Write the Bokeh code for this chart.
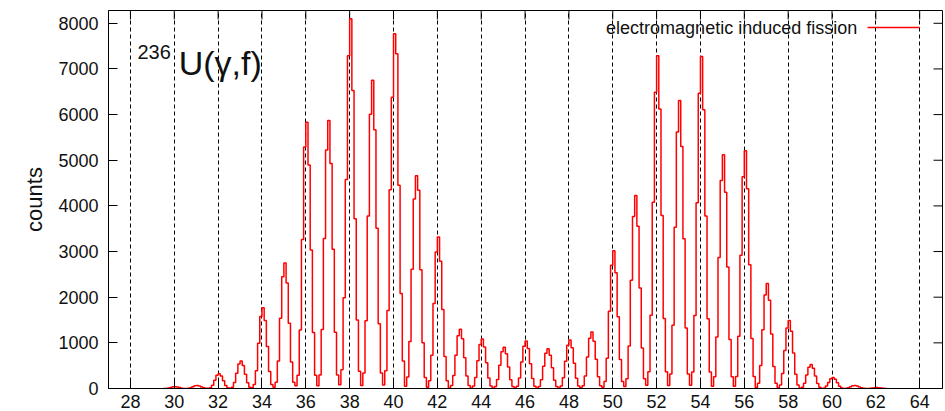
from bokeh.plotting import figure
from bokeh.models import FixedTicker, Label, Range1d
from bokeh.embed import file_html
from bokeh.resources import INLINE

# ---------------- data ----------------
atomic_numbers = list(range(30, 63))
bin_width = 0.1
# counts in 0.1-wide bins, ten bins per Z, covering Z-0.5 .. Z+0.5
counts_by_z = [
    [0, 2, 9, 22, 36, 40, 34, 21, 8, 2],                          # 30
    [1, 3, 14, 36, 58, 65, 55, 34, 14, 3],                        # 31
    [3, 16, 72, 182, 289, 325, 273, 169, 68, 16],                 # 32
    [6, 30, 132, 336, 534, 600, 504, 312, 126, 30],               # 33
    [18, 89, 389, 991, 1575, 1770, 1487, 920, 372, 89],           # 34
    [28, 138, 605, 1540, 2448, 2750, 2310, 1430, 578, 138],       # 35
    [58, 292, 1283, 3265, 5290, 5830, 4897, 3032, 1224, 292],     # 36
    [59, 294, 1291, 3287, 5224, 5870, 4931, 3052, 1233, 294],     # 37
    [80, 410, 1990, 4580, 7290, 8100, 6530, 3720, 1500, 380],     # 38
    [68, 338, 1485, 3780, 6010, 6750, 5670, 3510, 1418, 338],     # 39
    [78, 389, 1709, 4351, 6380, 7770, 7330, 4450, 2080, 600],     # 40
    [50, 250, 1030, 2610, 4150, 4660, 4340, 2600, 1000, 240],     # 41
    [30, 170, 730, 1860, 2990, 3320, 2790, 1730, 700, 170],       # 42
    [13, 65, 286, 728, 1157, 1300, 1092, 676, 273, 65],           # 43
    [11, 54, 239, 608, 966, 1085, 911, 564, 228, 54],             # 44
    [9, 45, 199, 507, 805, 905, 760, 471, 190, 45],               # 45
    [10, 52, 229, 582, 926, 1040, 874, 541, 218, 52],             # 46
    [9, 44, 191, 487, 774, 870, 731, 452, 183, 44],               # 47
    [11, 53, 234, 596, 948, 1065, 895, 554, 224, 53],             # 48
    [12, 62, 272, 692, 1099, 1235, 1037, 642, 259, 62],           # 49
    [30, 151, 664, 1691, 2700, 3020, 2537, 1570, 634, 151],       # 50
    [42, 212, 931, 2369, 3765, 4230, 3553, 2200, 888, 212],       # 51
    [73, 365, 1604, 4082, 6490, 7290, 6124, 3791, 1531, 365],     # 52
    [63, 316, 1388, 3534, 5616, 6310, 5300, 3281, 1325, 316],     # 53
    [73, 364, 1599, 4071, 6470, 7270, 6107, 3780, 1527, 364],     # 54
    [51, 256, 1126, 2867, 4557, 5120, 4301, 2662, 1075, 256],     # 55
    [52, 261, 1146, 2918, 4637, 5210, 4376, 2709, 1094, 261],     # 56
    [23, 115, 506, 1288, 2047, 2300, 1932, 1196, 483, 115],       # 57
    [15, 75, 328, 834, 1326, 1490, 1252, 775, 313, 75],           # 58
    [5, 26, 116, 294, 467, 525, 441, 273, 110, 26],               # 59
    [2, 12, 53, 134, 214, 240, 202, 125, 50, 12],                 # 60
    [1, 3, 14, 36, 58, 65, 55, 34, 14, 3],                        # 61
    [0, 1, 4, 11, 18, 20, 17, 10, 4, 1],                          # 62
]
x_ticks = list(range(28, 65, 2))
y_ticks = list(range(0, 8001, 1000))
series_label = "electromagnetic induced fission"
title_sup = "236"
title_main = "U(γ,f)"
y_label = "counts"

# ---------------- build step histogram ----------------
edges, counts = [], []
for z, row in zip(atomic_numbers, counts_by_z):
    for k, c in enumerate(row):
        edges.append(round(z - 0.5 + k * bin_width, 2))
        counts.append(c)
edges.append(round(edges[-1] + bin_width, 2))
counts.append(counts[-1])

FONT = "Liberation Sans"
X0, X1 = 27.0, 65.04
Y0, Y1 = 0, 8280

p = figure(width=945, height=411,
           x_range=Range1d(X0, X1), y_range=Range1d(Y0, Y1),
           output_backend="svg", toolbar_location=None,
           min_border_left=108, min_border_right=3,
           min_border_top=10, min_border_bottom=23)
p.background_fill_color = "white"
p.border_fill_color = "white"
p.outline_line_color = "black"
p.outline_line_width = 1

def style_axis(ax, ticks):
    ax.ticker = FixedTicker(ticks=ticks)
    ax.axis_line_color = "black"
    ax.major_tick_line_color = "black"
    ax.major_tick_in = 9
    ax.major_tick_out = 0
    ax.minor_tick_line_color = None
    ax.major_label_text_font = FONT
    ax.major_label_text_font_size = "18px"
    ax.major_label_text_color = "#111111"

style_axis(p.xaxis[0], x_ticks)
p.xaxis[0].major_label_standoff = 6
style_axis(p.yaxis[0], y_ticks)
p.yaxis[0].major_label_standoff = 10
p.yaxis[0].axis_label = y_label
p.yaxis[0].axis_label_text_font = FONT
p.yaxis[0].axis_label_text_font_size = "22px"
p.yaxis[0].axis_label_text_font_style = "normal"
p.yaxis[0].axis_label_text_color = "#111111"
p.yaxis[0].axis_label_standoff = 8

p.xgrid.ticker = FixedTicker(ticks=x_ticks)
p.xgrid.grid_line_color = "black"
p.xgrid.grid_line_dash = "4 3"
p.xgrid.grid_line_width = 1
p.ygrid.grid_line_color = None

# mirrored tick marks on the top and right frame edges (9 px inward)
tick_len_y = 9 / (368 / (Y1 - Y0) * 1.0) if False else 9 * (Y1 - Y0) / 378.0
tick_len_x = 9 * (X1 - X0) / 834.0
p.segment(x0=x_ticks, x1=x_ticks, y0=[Y1] * len(x_ticks),
          y1=[Y1 - tick_len_y] * len(x_ticks), line_color="black", line_width=1)
p.segment(x0=[X1] * len(y_ticks), x1=[X1 - tick_len_x] * len(y_ticks),
          y0=y_ticks, y1=y_ticks, line_color="black", line_width=1)

p.step(x=edges, y=counts, mode="after", line_color="#ff0000", line_width=1.5)

# title annotation
p.add_layout(Label(x=28.32, y=7380, text=title_sup, text_font=FONT,
                   text_font_size="20px", text_color="#111111",
                   text_baseline="alphabetic"))
p.add_layout(Label(x=30.2, y=7120, text=title_main, text_font=FONT,
                   text_font_size="34px", text_color="#111111",
                   text_baseline="alphabetic"))

# key (text left of the sample line)
p.add_layout(Label(x=61.15, y=7906, text=series_label, text_font=FONT,
                   text_font_size="18px", text_color="#111111",
                   text_align="right", text_baseline="middle"))
p.segment(x0=[61.62], y0=[7906], x1=[64.0], y1=[7906],
          line_color="#ff0000", line_width=1.5)

open("out.html", "w").write(file_html(p, INLINE))
